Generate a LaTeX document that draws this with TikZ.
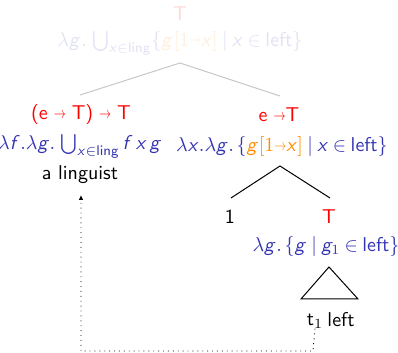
\documentclass[tikz,border=0pt]{standalone}
\usepackage{graphicx}
\renewcommand{\familydefault}{\sfdefault}
\DeclareMathAlphabet{\mathsfit}{OT1}{cmss}{m}{sl}
\DeclareMathAlphabet{\mathsfup}{OT1}{cmss}{m}{n}
\usetikzlibrary{arrows.meta}
\definecolor{semblue}{rgb}{0.2,0.2,0.7}
\definecolor{semorange}{rgb}{1,0.55,0}
\newcommand\vg{\mathsfit{g}}
\newcommand\vx{\mathsfit{x}}
\newcommand\vf{\mathsfit{f}}
\newcommand\tarr{\raisebox{0.6pt}{\scalebox{0.6}[0.8]{$\rightarrow$}}}
\newcommand\sto{\mathord{\tarr}}
\newcommand\tight{\thickmuskip=4mu plus 1mu\medmuskip=2mu\thinmuskip=2.5mu}
\begin{document}
\begin{tikzpicture}[x=0.5pt,y=-0.5pt,
  every node/.style={font=\normalsize, inner sep=0pt},
  cat/.style={text=red},
  sem/.style={text=semblue, execute at begin node=\tight},
  word/.style={text=black},
  faint/.style={opacity=0.15},
  branch/.style={line width=0.5pt, draw=black},
  ghost/.style={line width=0.5pt, draw=black!22},
  trace/.style={dotted, line width=0.45pt, -{Latex[length=2.4pt,width=2.2pt]}}]
\useasboundingbox (0,0) rectangle (398,353);
% top (faded)
\node[cat,faint] (topT) at (180,14) {T};
\node[sem,faint] (topsem) at (180,43) {$\lambda\vg.\,\bigcup_{\vx\in\mathsfup{ling}}\{{\color{semorange}\vg[1\sto\vx]}\mid\vx\in\mathsfup{left}\}$};
\coordinate (topapex) at (180,63);
\coordinate (lend) at (80,95);
\coordinate (rend) at (280,96);
\draw[ghost] (lend) -- (topapex) -- (rend);
% left daughter
\node[cat] (lT) at (81,115) {(e\kern3pt\tarr\kern3pt T)\kern3pt\tarr\kern3pt T};
\node[sem] (lsem) at (80,146) {$\lambda\vf.\lambda\vg.\,\bigcup_{\vx\in\mathsfup{ling}}\vf\,\vx\,\vg$};
\node[word] (lword) at (80,175) {a linguist};
% right daughter
\node[cat] (rT) at (279,115) {e\kern3pt\tarr T};
\node[sem] (rsem) at (282,147) {$\lambda\vx.\lambda\vg.\,\{{\color{semorange}\vg[1\sto\vx]}\mid\vx\in\mathsfup{left}\}$};
\coordinate (rapex) at (280,166);
\coordinate (rl) at (231,198);
\coordinate (rr) at (330,198);
\draw[branch] (rl) -- (rapex) -- (rr);
\node[word] (one) at (230,217) {1};
\node[cat] (tT) at (329,217) {T};
\node[sem] (tsem) at (326,247) {$\lambda\vg.\,\{\vg\mid\vg_1\in\mathsfup{left}\}$};
\coordinate (triA) at (329,267);
\coordinate (triL) at (301,299);
\coordinate (triR) at (358,299);
\draw[branch] (triA) -- (triL) -- (triR) -- cycle;
\node[word] (t1) at (315,321) {t$_1$};
\node[word] (left) at (341,320) {left};
% trace arrow
\coordinate (c1) at (313,351);
\coordinate (c2) at (81,351);
\coordinate (tip) at (81,195);
\draw[trace] (t1.south) -- (c1) -- (c2) -- (tip);
\end{tikzpicture}
\end{document}
